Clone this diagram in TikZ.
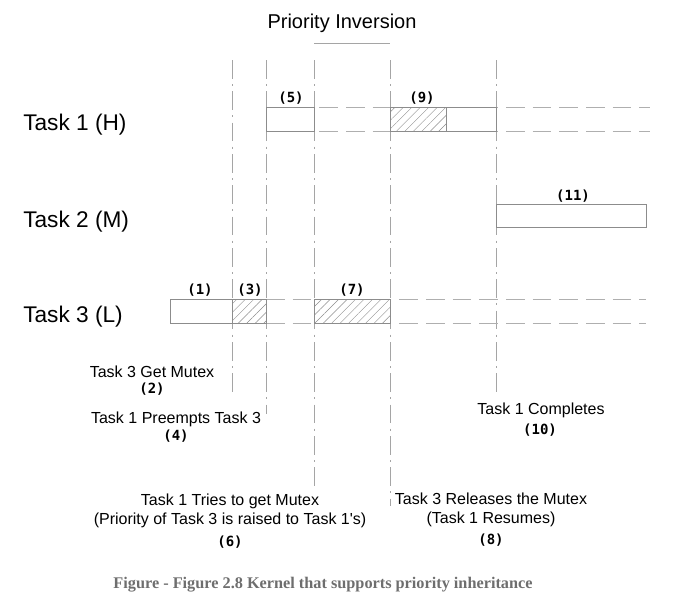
\documentclass[tikz,border=0pt]{standalone}
\usepackage{fontspec}
\setmainfont{Liberation Sans}
\setmonofont{DejaVu Sans Mono}
\newfontfamily\capfont{Liberation Serif}
\usepackage{tikz}
\usetikzlibrary{patterns.meta}
\definecolor{piLine}{RGB}{165, 165, 165}
\definecolor{piBox}{RGB}{140, 140, 140}
\definecolor{piDash}{RGB}{175, 175, 175}
\definecolor{piCap}{RGB}{110, 110, 110}
\tikzset{
    task/.style={
        font=\fontsize{17}{20}\selectfont,
        anchor=west,
        inner sep=0pt
    },
    event/.style={
        font=\fontsize{12}{14}\selectfont,
        align=center,
        inner sep=0pt
    },
    stepno/.style={
        font=\fontsize{10.5}{12}\selectfont\ttfamily\bfseries,
        inner sep=0pt
    },
    marker/.style={
        piLine,
        line width=0.6pt,
        dash pattern=on 14pt off 4pt on 1.5pt off 4pt
    },
    idle/.style={
        piDash,
        line width=0.6pt,
        dash pattern=on 14pt off 6pt
    },
    run/.style={
        draw=piBox,
        line width=0.6pt,
        fill=white
    },
    hold/.style={
        run,
        pattern={Lines[angle=45, distance=4.5pt, line width=0.35pt]},
        pattern color=piBox
    }
}

\begin{document}
\begin{tikzpicture}[x=0.75pt, y=-0.75pt]
    % Page
    \useasboundingbox (0,0) rectangle (675,604);

    % Title
    \node[font=\fontsize{15}{18}\selectfont] (title) at (342,23) {Priority Inversion};
    \draw[piLine, line width=0.6pt] (314,43) -- (390,43);

    % Time markers
    \draw[marker] (232,60) -- (232,396);
    \draw[marker] (266,60) -- (266,414);
    \draw[marker] (314,60) -- (314,488);
    \draw[marker] (390,60) -- (390,506);
    \draw[marker] (496,60) -- (496,396);

    % Idle levels
    \foreach \y in {107,131} \draw[idle] (266,\y) -- (650,\y);
    \foreach \y in {299,323} \draw[idle] (266,\y) -- (646,\y);

    % Task 1 (H)
    \node[task] (t1) at (23,125) {Task 1 (H)};
    \draw[run] (266,107) rectangle (314,131);
    \draw[hold] (390,107) rectangle (446,131);
    \draw[run] (446,107) rectangle (496,131);
    \node[stepno] (s5) at (291,98) {(5)};
    \node[stepno] (s9) at (422,98) {(9)};

    % Task 2 (M)
    \node[task] (t2) at (23,222) {Task 2 (M)};
    \draw[run] (496,204) rectangle (646,227);
    \node[stepno] (s11) at (573,196) {(11)};

    % Task 3 (L)
    \node[task] (t3) at (23,317) {Task 3 (L)};
    \draw[run] (170,299) rectangle (232,323);
    \draw[hold] (232,299) rectangle (266,323);
    \draw[hold] (314,299) rectangle (390,323);
    \node[stepno] (s1) at (200,290) {(1)};
    \node[stepno] (s3) at (250,290) {(3)};
    \node[stepno] (s7) at (352,290) {(7)};

    % Events
    \node[event] (e2) at (152,372) {Task 3 Get Mutex};
    \node[stepno] (s2) at (152,389) {(2)};
    \node[event] (e4) at (176,419) {Task 1 Preempts Task 3};
    \node[stepno] (s4) at (176,436) {(4)};
    \node[event] (e6) at (230,511) {Task 1 Tries to get Mutex\\(Priority of Task 3 is raised to Task 1\textquotesingle s)};
    \node[stepno] (s6) at (230,542) {(6)};
    \node[event] (e8) at (491,510) {Task 3 Releases the Mutex\\(Task 1 Resumes)};
    \node[stepno] (s8) at (491,540) {(8)};
    \node[event] (e10) at (541,410) {Task 1 Completes};
    \node[stepno] (s10) at (540,430) {(10)};

    % Caption
    \node[font=\fontsize{12.2}{14}\selectfont\capfont\bfseries, text=piCap] (cap) at (323,585)
        {Figure - Figure 2.8 Kernel that supports priority inheritance};
\end{tikzpicture}
\end{document}
